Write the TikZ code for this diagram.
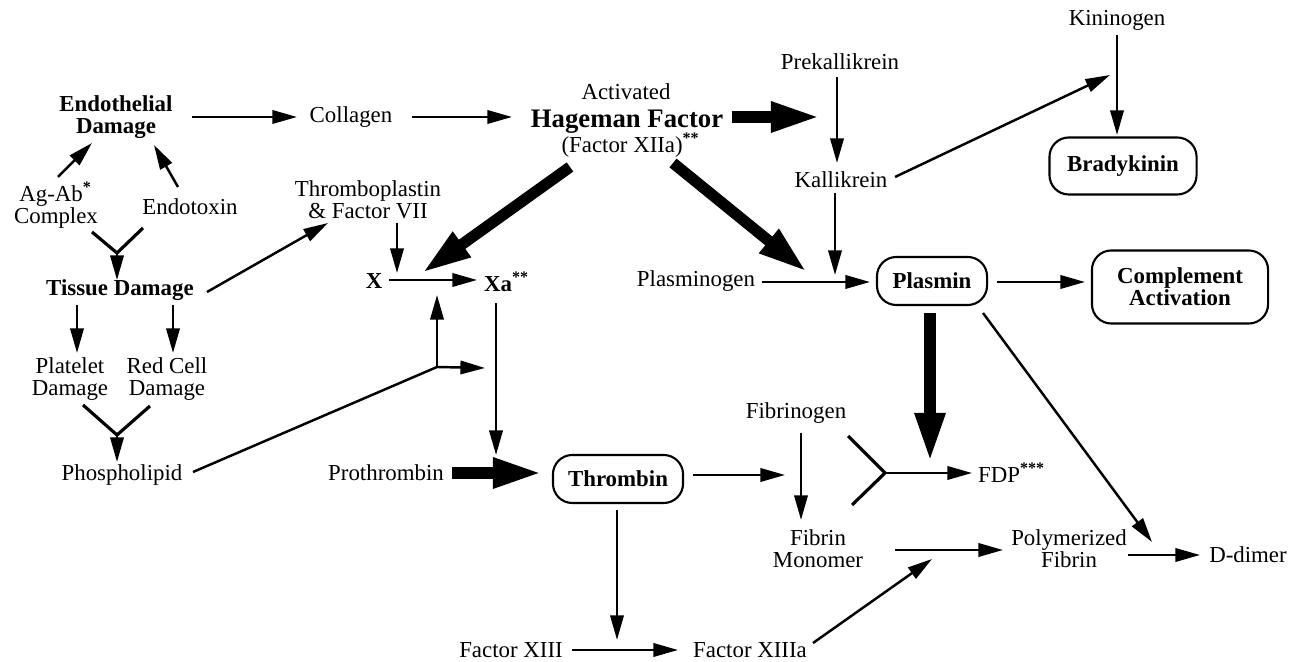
\documentclass[tikz,border=0pt]{standalone}
\usepackage{fontspec}
\setmainfont{Liberation Serif}
\usetikzlibrary{arrows.meta,positioning,calc}

\begin{document}
\begin{tikzpicture}[x=0.01cm,y=-0.01cm,
    font=\fontsize{6.5}{6.25}\selectfont,
    txt/.style={inner sep=0pt,align=center},
    bf/.style={txt,font=\fontsize{6.5}{6.25}\selectfont\bfseries},
    rbox/.style={draw,line width=0.6pt,rounded corners=5.5pt,inner sep=0pt,align=center,font=\fontsize{6.5}{6.25}\selectfont\bfseries},
    ar/.style={line width=0.7pt,-{Triangle[length=7pt,width=3.8pt]}},
    thk/.style={line width=3.2pt,-{Triangle[length=14pt,width=8pt]}},
    jn/.style={line width=0.9pt}]
    \useasboundingbox (0,0) rectangle (1301,662);
    % left column
    \node[bf] (endo) at (116,117) {Endothelial\\Damage};
    \node[txt] (agab) at (56,205) {Ag-Ab\textsuperscript{\bfseries *}\\Complex};
    \node[txt] (endotox) at (190,207) {Endotoxin};
    \node[bf] (tissue) at (120,290) {Tissue Damage};
    \node[txt] (platelet) at (70,379) {Platelet\\Damage};
    \node[txt] (redcell) at (167,379) {Red Cell\\Damage};
    \node[txt] (phos) at (122,475) {Phospholipid};
    % middle
    \node[txt] (coll) at (351,117) {Collagen};
    \node[txt] (act) at (626,92) {Activated};
    \node[txt,font=\fontsize{7.6}{8}\selectfont\bfseries] (hag) at (627,122) {Hageman Factor};
    \node[txt] (fxiia) at (631,145) {(Factor XIIa)\textsuperscript{\bfseries **}};
    \node[txt] (thrombo) at (368,200) {Thromboplastin\\\& Factor VII};
    \node[bf] (xnode) at (374,281) {X};
    \node[bf] (xa) at (507,282) {Xa\textsuperscript{**}};
    \node[txt] (proth) at (386,473) {Prothrombin};
    \node[rbox,minimum width=1.30cm,minimum height=0.48cm] (thrombin) at (618,479) {Thrombin};
    \node[txt] (f13) at (511,650) {Factor XIII};
    \node[txt] (f13a) at (750,650) {Factor XIIIa};
    % right
    \node[txt] (prek) at (840,62) {Prekallikrein};
    \node[txt] (kall) at (841,180) {Kallikrein};
    \node[txt] (kinin) at (1117,20) {Kininogen};
    \node[rbox,minimum width=1.47cm,minimum height=0.57cm] (brady) at (1123,166) {Bradykinin};
    \node[txt] (plasmgn) at (696,281) {Plasminogen};
    \node[rbox,minimum width=1.10cm,minimum height=0.48cm] (plasmin) at (932,281) {Plasmin};
    \node[rbox,minimum width=1.76cm,minimum height=0.73cm] (compl) at (1180,287) {Complement\\Activation};
    \node[txt] (fibgn) at (796,413) {Fibrinogen};
    \node[txt] (fibmon) at (818,549) {Fibrin\\Monomer};
    \node[txt] (fdp) at (1012,473) {FDP\textsuperscript{\bfseries ***}};
    \node[txt] (polyf) at (1069,549) {Polymerized\\Fibrin};
    \node[txt] (ddimer) at (1248,555) {D-dimer};
    % junctions
    \coordinate (tj1) at ([shift={(-3,-37)}]tissue.center);
    \coordinate (tj2) at ([shift={(-5,-40)}]phos.center);
    \coordinate (pj) at ([shift={(63,86)}]xnode.center);
    \coordinate (tj3) at ([shift={(-127,0)}]fdp.center);
    % connectors
    \draw[ar] ([shift={(76,0)}]endo.center) -- ([shift={(-54,0)}]coll.center);
    \draw[ar] ([shift={(61,0)}]coll.center) -- ([shift={(-115,-5)}]hag.center);
    \draw[thk] ([shift={(105,-5)}]hag.center) -- ([shift={(-20,55)}]prek.center);
    \draw[ar] ([shift={(2,-28)}]agab.center) -- ([shift={(-24,26)}]endo.center);
    \draw[ar] ([shift={(-12,-20)}]endotox.center) -- ([shift={(38,28)}]endo.center);
    \draw[jn] ([shift={(36,27)}]agab.center) -- (tj1) -- ([shift={(-47,21)}]endotox.center);
    \draw[ar] (tj1) -- ([shift={(-3,-10)}]tissue.center);
    \draw[ar] ([shift={(87,2)}]tissue.center) -- ([shift={(-40,23)}]thrombo.center);
    \draw[ar] ([shift={(-43,15)}]tissue.center) -- ([shift={(7,-26)}]platelet.center);
    \draw[ar] ([shift={(53,15)}]tissue.center) -- ([shift={(6,-26)}]redcell.center);
    \draw[jn] ([shift={(13,26)}]platelet.center) -- (tj2) -- ([shift={(-17,27)}]redcell.center);
    \draw[ar] (tj2) -- ([shift={(-5,-13)}]phos.center);
    \draw[line width=0.7pt] ([shift={(71,-3)}]phos.center) -- (pj);
    \draw[ar] (pj) -- ([shift={(63,14)}]xnode.center);
    \draw[ar] (pj) -- ([shift={(-22,86)}]xa.center);
    \draw[ar] ([shift={(29,23)}]thrombo.center) -- ([shift={(23,-8)}]xnode.center);
    \draw[ar] ([shift={(15,-1)}]xnode.center) -- ([shift={(-30,-2)}]xa.center);
    \draw[thk] ([shift={(-61,22)}]fxiia.center) -- ([shift={(48,-8)}]xnode.center);
    \draw[ar] ([shift={(-11,21)}]xa.center) -- ([shift={(-122,-24)}]thrombin.center);
    \draw[thk] ([shift={(66,0)}]proth.center) -- ([shift={(-76,-6)}]thrombin.center);
    \draw[ar] ([shift={(75,-4)}]thrombin.center) -- ([shift={(-11,62)}]fibgn.center);
    \draw[ar] ([shift={(-1,31)}]thrombin.center) -- ([shift={(106,-10)}]f13.center);
    \draw[ar] ([shift={(61,0)}]f13.center) -- ([shift={(-72,0)}]f13a.center);
    \draw[ar] ([shift={(63,-7)}]f13a.center) -- ([shift={(-137,10)}]polyf.center);
    \draw[ar] ([shift={(-3,15)}]prek.center) -- ([shift={(-4,-17)}]kall.center);
    \draw[ar] ([shift={(54,-3)}]kall.center) -- ([shift={(-7,55)}]kinin.center);
    \draw[ar] ([shift={(0,15)}]kinin.center) -- ([shift={(-6,-31)}]brady.center);
    \draw[ar] ([shift={(-6,13)}]kall.center) -- ([shift={(-97,-6)}]plasmin.center);
    \draw[thk] ([shift={(42,18)}]fxiia.center) -- ([shift={(-125,-9)}]plasmin.center);
    \draw[ar] ([shift={(66,1)}]plasmgn.center) -- ([shift={(-62,1)}]plasmin.center);
    \draw[ar] ([shift={(65,1)}]plasmin.center) -- ([shift={(-95,-5)}]compl.center);
    \draw[thk] ([shift={(-2,32)}]plasmin.center) -- ([shift={(-82,-11)}]fdp.center);
    \draw[ar] ([shift={(51,32)}]plasmin.center) -- ([shift={(-96,-13)}]ddimer.center);
    \draw[ar] ([shift={(5,20)}]fibgn.center) -- ([shift={(-17,-29)}]fibmon.center);
    \draw[jn] ([shift={(52,23)}]fibgn.center) -- (tj3) -- ([shift={(34,-44)}]fibmon.center);
    \draw[ar] (tj3) -- ([shift={(-40,0)}]fdp.center);
    \draw[ar] ([shift={(77,1)}]fibmon.center) -- ([shift={(-66,1)}]polyf.center);
    \draw[ar] ([shift={(59,6)}]polyf.center) -- ([shift={(-48,0)}]ddimer.center);
\end{tikzpicture}
\end{document}
